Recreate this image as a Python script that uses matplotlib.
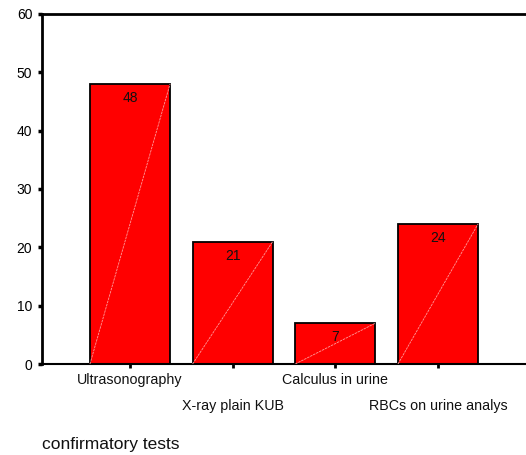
import matplotlib.pyplot as plt
import numpy as np

plt.rcParams['font.family'] = ['Liberation Sans', 'DejaVu Sans']

tests = ['Ultrasonography', 'X-ray plain KUB', 'Calculus in urine', 'RBCs on urine analys']
counts = [48, 21, 7, 24]
y_ticks = [0, 10, 20, 30, 40, 50, 60]

fig = plt.figure(figsize=(5.26, 4.55), dpi=100)
ax = fig.add_axes([42 / 526, 91 / 455, 484 / 526, 350 / 455])

x = np.arange(len(counts))
width = 0.78
bars = ax.bar(x, counts, width=width, color='#ff0000', edgecolor='black', linewidth=1.3, zorder=2)

# faint diagonal across each bar, bottom-left to top-right
for xi, c in zip(x, counts):
    ax.plot([xi - width / 2, xi + width / 2], [0, c], color='#ff9a9a', lw=0.6,
            ls=(0, (3, 1)), zorder=3)
    ax.text(xi, c - 2.4, str(c), ha='center', va='center', fontsize=10,
            color='#111111', zorder=4)

ax.set_xlim(-0.857, 3.857)
ax.set_ylim(0, 60)
ax.set_yticks(y_ticks)
ax.set_yticklabels([str(t) for t in y_ticks], fontsize=10)
ax.set_xticks(x)
ax.set_xticklabels([])

# alternate the category labels on two rows
for i, (xi, name) in enumerate(zip(x, tests)):
    dy = -0.045 if i % 2 == 0 else -0.12
    ax.text(xi, dy, name, transform=ax.get_xaxis_transform(), ha='center', va='center',
            fontsize=10.3, color='#111111')

ax.tick_params(axis='y', direction='out', length=3, width=2.5, pad=4)
ax.tick_params(axis='x', direction='out', length=3, width=2)

ax.spines['right'].set_visible(False)
ax.spines['left'].set_linewidth(2)
ax.spines['top'].set_linewidth(2)
ax.spines['bottom'].set_linewidth(1.5)

fig.text(42 / 526, 1 - 444 / 455, 'confirmatory tests', ha='left', va='center', fontsize=12.5,
         color='#111111')

fig.savefig('out.png', dpi=100)
